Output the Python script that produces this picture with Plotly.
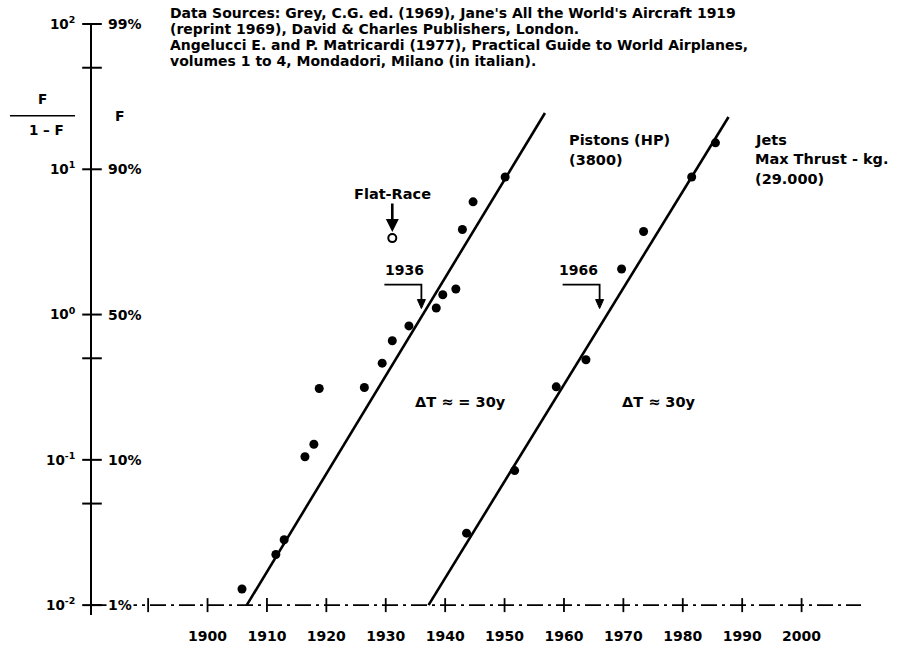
import math
import plotly.graph_objects as go

# ---------------- data ----------------
piston_years = [1905.8, 1911.5, 1912.9, 1916.4, 1917.9, 1918.8, 1926.4, 1929.4, 1931.1,
                1933.9, 1938.5, 1939.6, 1941.8, 1942.9, 1944.7, 1950.1]
piston_values = [0.0129, 0.0223, 0.0282, 0.105, 0.128, 0.31, 0.315, 0.463, 0.66,
                 0.835, 1.11, 1.37, 1.50, 3.85, 5.97, 8.85]
jet_years = [1943.6, 1951.7, 1958.7, 1963.7, 1969.7, 1973.4, 1981.5, 1985.5]
jet_values = [0.0313, 0.0843, 0.318, 0.489, 2.06, 3.73, 8.85, 15.2]
flat_race_year = [1931.1]
flat_race_value = [3.36]

piston_fit_years = [1906.6, 1956.8]
piston_fit_values = [0.01, 24.4]
jet_fit_years = [1937.2, 1987.7]
jet_fit_values = [0.01, 22.9]

midpoint_years = [1936, 1966]
midpoint_value = 1.0
midpoint_labels = ["1936", "1966"]

x_tick_years = [1900, 1910, 1920, 1930, 1940, 1950, 1960, 1970, 1980, 1990, 2000]
x_axis_mark_years = [1890, 1900, 1910, 1920, 1930, 1940, 1950, 1960, 1970, 1980, 1990, 2000]
y_tick_values = [0.01, 0.1, 1, 10, 100]
y_tick_labels = ["10<sup>-2</sup>", "10<sup>-1</sup>", "10<sup>0</sup>", "10<sup>1</sup>", "10<sup>2</sup>"]
y_pct_labels = ["1%", "10%", "50%", "90%", "99%"]
y_minor_values = [0.05, 0.5, 50]

source_lines = [
    "Data Sources: Grey, C.G. ed. (1969), Jane's All the World's Aircraft 1919",
    "(reprint 1969), David &amp; Charles Publishers, London.",
    "Angelucci E. and P. Matricardi (1977), Practical Guide to World Airplanes,",
    "volumes 1 to 4, Mondadori, Milano (in italian).",
]

# ---------------- layout constants ----------------
X_MIN, X_MAX = 1880.55, 2013.2
X_AXIS_END = 2010
Y_RANGE = [-2.068, 2.0]
L, R, T, B = 92, 20, 24, 33
FIG_W, FIG_H = 900, 656
PW, PH = FIG_W - L - R, FIG_H - T - B
FONT = "DejaVu Sans"
INK = "black"


def tfont(size=14.5):
    return dict(family=FONT, size=size, color=INK, weight="bold")


def px_note(text, px, py, anchor="left", size=14.5):
    return dict(xref="paper", yref="paper", x=(px - L) / PW, y=1 - (py - T) / PH,
                xanchor=anchor, yanchor="middle", text=text, showarrow=False,
                font=tfont(size))


fig = go.Figure()

# dashed x axis line
fig.add_trace(go.Scatter(x=[X_MIN, X_AXIS_END], y=[0.01, 0.01], mode="lines",
                         line=dict(color=INK, width=1.6, dash="16px,5px,3px,5px"),
                         hoverinfo="skip", showlegend=False))

# cross ticks on x axis
fig.add_trace(go.Scatter(x=x_axis_mark_years, y=[0.01] * len(x_axis_mark_years), mode="markers",
                         marker=dict(symbol="line-ns", size=10, line=dict(color=INK, width=1.8)),
                         cliponaxis=False, hoverinfo="skip", showlegend=False))

# cross ticks on y axis
y_marks = y_tick_values + y_minor_values
fig.add_trace(go.Scatter(x=[X_MIN] * len(y_marks), y=y_marks, mode="markers",
                         marker=dict(symbol="line-ew", size=14, line=dict(color=INK, width=2)),
                         cliponaxis=False, hoverinfo="skip", showlegend=False))

# fitted lines
for xs, ys in [(piston_fit_years, piston_fit_values), (jet_fit_years, jet_fit_values)]:
    fig.add_trace(go.Scatter(x=xs, y=ys, mode="lines", line=dict(color=INK, width=2.6),
                             hoverinfo="skip", showlegend=False))

# data points
fig.add_trace(go.Scatter(x=piston_years, y=piston_values, mode="markers", name="Pistons",
                         marker=dict(color=INK, size=9), showlegend=False))
fig.add_trace(go.Scatter(x=jet_years, y=jet_values, mode="markers", name="Jets",
                         marker=dict(color=INK, size=9), showlegend=False))
fig.add_trace(go.Scatter(x=flat_race_year, y=flat_race_value, mode="markers", name="Flat-Race",
                         marker=dict(symbol="circle-open", color=INK, size=8,
                                     line=dict(color=INK, width=2)), showlegend=False))

ann = []
# percent labels right of the y axis
for v, lab in zip(y_tick_values, y_pct_labels):
    ann.append(dict(xref="paper", yref="y", x=0, y=math.log10(v), xanchor="left",
                    yanchor="middle", xshift=14, text=lab, showarrow=False, font=tfont(14),
                    bgcolor="white" if v == 0.01 else None, borderpad=1))

# Flat-Race arrow
ann.append(dict(x=flat_race_year[0], y=math.log10(flat_race_value[0]), xref="x", yref="y",
                text="Flat-Race", showarrow=True, ax=0, ay=-44, arrowhead=2, arrowsize=1,
                arrowwidth=2.6, arrowcolor=INK, standoff=6, font=tfont(14.5)))

shapes = [dict(type="line", xref="paper", yref="paper",
               x0=(10 - L) / PW, x1=(75 - L) / PW,
               y0=1 - (117 - T) / PH, y1=1 - (117 - T) / PH,
               line=dict(color=INK, width=1.5))]

# midpoint brackets (horizontal + vertical segment + arrow head, sized in pixels)
for yr, lab, xs in zip(midpoint_years, midpoint_labels, [-17, -21]):
    common = dict(xref="x", yref="y", xsizemode="pixel", ysizemode="pixel",
                  xanchor=yr, yanchor=midpoint_value)
    shapes.append(dict(type="path", path="M-37,30 L0,30 L0,14",
                       line=dict(color=INK, width=1.8), **common))
    shapes.append(dict(type="path", path="M-4,15 L4,15 L0,6 Z", fillcolor=INK,
                       line=dict(color=INK, width=1), **common))
    ann.append(dict(x=yr, y=math.log10(midpoint_value), xref="x", yref="y", text=lab,
                    showarrow=False, xshift=xs, yshift=45, font=tfont(14)))

# free texts
for i, line in enumerate(source_lines):
    ann.append(px_note(line, 168, 12.5 + 16.3 * i, size=14))
ann.append(px_note("Pistons (HP)", 567, 142))
ann.append(px_note("(3800)", 567, 162))
ann.append(px_note("Jets", 753, 142))
ann.append(px_note("Max Thrust - kg.", 753, 161))
ann.append(px_note("(29.000)", 753, 181))
ann.append(px_note("\u0394T \u2248 = 30y", 460, 407, anchor="center"))
ann.append(px_note("\u0394T \u2248 30y", 659, 407, anchor="center"))
ann.append(px_note("F", 42, 100, anchor="center", size=13.5))
ann.append(px_note("1 \u2013 F", 46, 131, anchor="center", size=13.5))
ann.append(px_note("F", 120, 117, anchor="center", size=14))

fig.update_layout(
    width=FIG_W, height=FIG_H,
    margin=dict(l=L, r=R, t=T, b=B, pad=0),
    paper_bgcolor="white", plot_bgcolor="white",
    showlegend=False,
    annotations=ann,
    shapes=shapes,
    xaxis=dict(range=[X_MIN, X_MAX], showgrid=False, zeroline=False, showline=False,
               tickvals=x_tick_years, ticks="", tickfont=tfont(14), ticklabelstandoff=11),
    yaxis=dict(type="log", range=Y_RANGE, showgrid=False, zeroline=False, showline=True,
               linecolor=INK, linewidth=2, tickvals=y_tick_values, ticktext=y_tick_labels,
               ticks="", tickfont=tfont(13.5), ticklabelstandoff=12),
)

fig.write_html("out.html")
